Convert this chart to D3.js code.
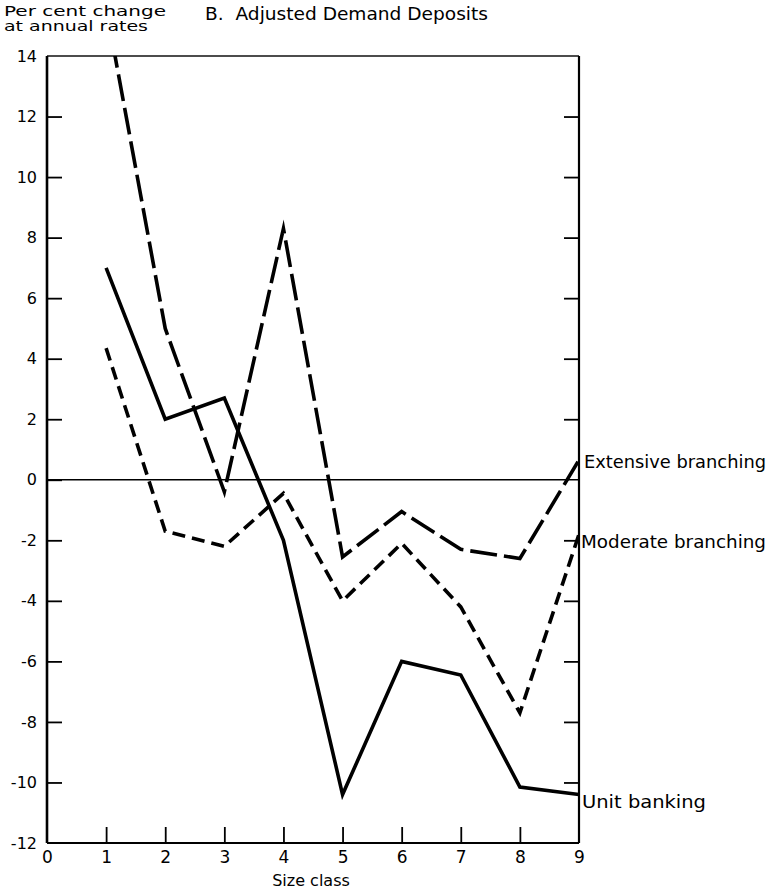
<!DOCTYPE html>
<html><head><meta charset="utf-8">
<script src="https://cdn.jsdelivr.net/npm/d3@7"></script>
<style>body{margin:0;background:#fff}svg{display:block}</style>
</head><body><svg id="c" width="769" height="893"></svg>
<script>
const sizeClasses = [1, 2, 3, 4, 5, 6, 7, 8, 9];
const unitBanking = [7.0, 2.0, 2.7, -2.0, -10.4, -6.0, -6.45, -10.15, -10.4];
const moderateBranching = [4.35, -1.7, -2.2, -0.45, -4.0, -2.1, -4.2, -7.7, -1.8];
const extensiveBranching = [15.6, 5.0, -0.4, 8.3, -2.55, -1.05, -2.3, -2.6, 0.65];
const xTickValues = [0, 1, 2, 3, 4, 5, 6, 7, 8, 9];
const yTickValues = [-12, -10, -8, -6, -4, -2, 0, 2, 4, 6, 8, 10, 12, 14];
const seriesNames = ["Unit banking", "Moderate branching", "Extensive branching"];
const titleText = "B.  Adjusted Demand Deposits";
const yTitleLines = ["Per cent change", "at annual rates"];
const xTitle = "Size class";

const FONT = "DejaVu Sans, sans-serif";
const svg = d3.select("#c");
const L = 47, R = 579, T = 56, B = 843;
const x = d3.scaleLinear().domain([0, 9]).range([L, R]);
const y = d3.scaleLinear().domain([-12, 14]).range([B, T]);

svg.append("defs").append("clipPath").attr("id", "plot")
  .append("rect").attr("x", L).attr("y", T).attr("width", R - L).attr("height", B - T);

// frame
svg.append("line").attr("x1", L).attr("x2", R).attr("y1", T).attr("y2", T).attr("stroke", "#111").attr("stroke-width", 1.6);
svg.append("line").attr("x1", L).attr("x2", L).attr("y1", T).attr("y2", B).attr("stroke", "#000").attr("stroke-width", 2.6);
svg.append("line").attr("x1", R).attr("x2", R).attr("y1", T).attr("y2", B).attr("stroke", "#000").attr("stroke-width", 2.2);
svg.append("line").attr("x1", L).attr("x2", R).attr("y1", B).attr("y2", B).attr("stroke", "#000").attr("stroke-width", 2.2);
// zero line
svg.append("line").attr("x1", x(0)).attr("x2", x(9)).attr("y1", y(0)).attr("y2", y(0)).attr("stroke", "#000").attr("stroke-width", 1.3);

function styleAxis(g) {
  g.select(".domain").remove();
  g.selectAll(".tick line").attr("stroke", "#000").attr("stroke-width", 1.8);
  g.selectAll(".tick text").attr("fill", "#000").attr("font-family", FONT).attr("font-size", 16);
}

const yAxis = svg.append("g").attr("transform", `translate(${L},0)`)
  .call(d3.axisLeft(y).tickValues(yTickValues).tickSize(-15).tickPadding(10).tickFormat(d => d))
  .call(styleAxis);
yAxis.selectAll(".tick").filter(d => d === 14 || d === -12).select("line").remove();

svg.append("g").attr("transform", `translate(${R},0)`)
  .call(d3.axisRight(y).tickValues(yTickValues.filter(d => d > -12 && d < 14 && d !== 0)).tickSize(-15).tickFormat(""))
  .call(styleAxis);

const xAxis = svg.append("g").attr("transform", `translate(0,${B})`)
  .call(d3.axisBottom(x).tickValues(xTickValues).tickSize(-16).tickPadding(8).tickFormat(d => d))
  .call(styleAxis);
xAxis.selectAll(".tick").filter(d => d === 0 || d === 9).select("line").remove();
xAxis.selectAll(".tick text").attr("font-size", 17);

// lines
const series = [
  { name: seriesNames[0], values: unitBanking, dash: null },
  { name: seriesNames[1], values: moderateBranching, dash: "13,7" },
  { name: seriesNames[2], values: extensiveBranching, dash: "27,7" }
];
const line = d3.line().x((d, i) => x(sizeClasses[i])).y(d => y(d));
const gLines = svg.append("g").attr("clip-path", "url(#plot)");
series.forEach(s => {
  gLines.append("path").datum(s.values)
    .attr("d", line)
    .attr("fill", "none").attr("stroke", "#000").attr("stroke-width", 3.6)
    .attr("stroke-linejoin", "miter").attr("stroke-miterlimit", 6)
    .attr("stroke-dasharray", s.dash);
});

// series labels
const labelPos = [
  { v: unitBanking[8], dx: 3, dy: 8 },
  { v: moderateBranching[8], dx: 2, dy: 9 },
  { v: extensiveBranching[8], dx: 5, dy: 3 }
];
const labelWidths = [124, 185, 182];
series.forEach((s, i) => {
  svg.append("text").attr("x", x(9) + labelPos[i].dx).attr("y", y(labelPos[i].v) + labelPos[i].dy)
    .attr("dominant-baseline", "middle")
    .attr("font-family", FONT).attr("font-size", 17.5)
    .attr("textLength", labelWidths[i]).attr("lengthAdjust", "spacingAndGlyphs")
    .text(s.name);
});

// titles
svg.append("text").attr("x", 4).attr("y", 16).attr("font-family", FONT).attr("font-size", 14)
  .attr("textLength", 162).attr("lengthAdjust", "spacingAndGlyphs").text(yTitleLines[0]);
svg.append("text").attr("x", 4).attr("y", 31).attr("font-family", FONT).attr("font-size", 14)
  .attr("textLength", 144).attr("lengthAdjust", "spacingAndGlyphs").text(yTitleLines[1]);
svg.append("text").attr("x", 205).attr("y", 20).attr("font-family", FONT).attr("font-size", 17)
  .attr("textLength", 283).attr("lengthAdjust", "spacingAndGlyphs").attr("xml:space", "preserve").text(titleText);
svg.append("text").attr("x", 311).attr("y", 881).attr("text-anchor", "middle")
  .attr("dominant-baseline", "middle")
  .attr("font-family", FONT).attr("font-size", 16).text(xTitle);
</script></body></html>
